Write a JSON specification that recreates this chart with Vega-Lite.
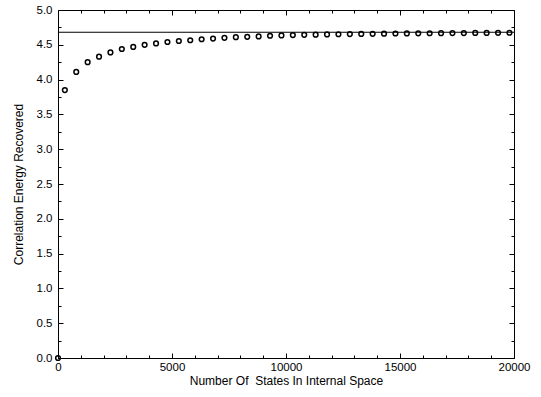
{
  "$schema": "https://vega.github.io/schema/vega-lite/v6.json",
  "width": 456,
  "height": 348,
  "autosize": {"type": "none"},
  "padding": {"left": 58, "top": 10, "right": 27, "bottom": 39},
  "background": "white",
  "config": {
    "view": {"stroke": null},
    "axis": {
      "domainColor": "black",
      "tickColor": "black",
      "labelColor": "black",
      "titleColor": "black",
      "labelFont": "Liberation Sans",
      "titleFont": "Liberation Sans",
      "labelFontSize": 11.5,
      "titleFontSize": 12,
      "titleFontWeight": "normal",
      "grid": false,
      "domainWidth": 1,
      "tickWidth": 1
    }
  },
  "datasets": {
    "pts": [
      {"states": 0, "energy": 0},
      {"states": 300, "energy": 3.85},
      {"states": 800, "energy": 4.11},
      {"states": 1300, "energy": 4.25},
      {"states": 1800, "energy": 4.33},
      {"states": 2300, "energy": 4.39},
      {"states": 2800, "energy": 4.44},
      {"states": 3300, "energy": 4.47},
      {"states": 3800, "energy": 4.5},
      {"states": 4300, "energy": 4.52},
      {"states": 4800, "energy": 4.54},
      {"states": 5300, "energy": 4.555},
      {"states": 5800, "energy": 4.565},
      {"states": 6300, "energy": 4.58},
      {"states": 6800, "energy": 4.59},
      {"states": 7300, "energy": 4.6},
      {"states": 7800, "energy": 4.61},
      {"states": 8300, "energy": 4.615},
      {"states": 8800, "energy": 4.62},
      {"states": 9300, "energy": 4.63},
      {"states": 9800, "energy": 4.635},
      {"states": 10300, "energy": 4.64},
      {"states": 10800, "energy": 4.643},
      {"states": 11300, "energy": 4.646},
      {"states": 11800, "energy": 4.649},
      {"states": 12300, "energy": 4.652},
      {"states": 12800, "energy": 4.654},
      {"states": 13300, "energy": 4.656},
      {"states": 13800, "energy": 4.658},
      {"states": 14300, "energy": 4.66},
      {"states": 14800, "energy": 4.662},
      {"states": 15300, "energy": 4.663},
      {"states": 15800, "energy": 4.665},
      {"states": 16300, "energy": 4.666},
      {"states": 16800, "energy": 4.667},
      {"states": 17300, "energy": 4.668},
      {"states": 17800, "energy": 4.669},
      {"states": 18300, "energy": 4.67},
      {"states": 18800, "energy": 4.671},
      {"states": 19300, "energy": 4.672},
      {"states": 19800, "energy": 4.673}
    ],
    "ref": [
      {"x0": 0, "x1": 20000, "e": 4.68}
    ]
  },
  "layer": [
    {
      "data": {"name": "ref"},
      "mark": {"type": "rule", "color": "black", "strokeWidth": 1.2},
      "encoding": {
        "x": {
          "field": "x0", "type": "quantitative",
          "scale": {"domain": [0, 20000], "nice": false, "zero": true},
          "axis": {
            "orient": "top", "title": null, "labels": false,
            "values": [0,1000,2000,3000,4000,5000,6000,7000,8000,9000,10000,11000,12000,13000,14000,15000,16000,17000,18000,19000,20000],
            "tickSize": {"condition": {"test": "datum.value % 5000 === 0", "value": -5}, "value": -3}
          }
        },
        "x2": {"field": "x1"},
        "y": {
          "field": "e", "type": "quantitative",
          "scale": {"domain": [0, 5], "nice": false},
          "axis": {
            "orient": "right", "title": null, "labels": false,
            "values": [0,0.25,0.5,0.75,1,1.25,1.5,1.75,2,2.25,2.5,2.75,3,3.25,3.5,3.75,4,4.25,4.5,4.75,5],
            "tickSize": {"condition": {"test": "(datum.value * 2) % 1 === 0", "value": -5}, "value": -3}
          }
        }
      }
    },
    {
      "data": {"name": "pts"},
      "mark": {"type": "point", "shape": "circle", "filled": false, "stroke": "black", "strokeWidth": 1.5, "size": 22, "opacity": 1, "clip": false},
      "encoding": {
        "x": {
          "field": "states", "type": "quantitative",
          "scale": {"domain": [0, 20000], "nice": false},
          "axis": {
            "orient": "bottom",
            "title": "Number Of\u00a0 States In Internal Space",
            "values": [0,1000,2000,3000,4000,5000,6000,7000,8000,9000,10000,11000,12000,13000,14000,15000,16000,17000,18000,19000,20000],
            "labelExpr": "datum.value % 5000 === 0 ? datum.label : ''",
            "format": "d",
            "labelFlush": false,
            "labelOverlap": false,
            "labelPadding": 8,
            "titlePadding": 1,
            "tickSize": {"condition": {"test": "datum.value % 5000 === 0", "value": -5}, "value": -3}
          }
        },
        "y": {
          "field": "energy", "type": "quantitative",
          "scale": {"domain": [0, 5], "nice": false},
          "axis": {
            "orient": "left",
            "title": "Correlation Energy Recovered",
            "values": [0,0.25,0.5,0.75,1,1.25,1.5,1.75,2,2.25,2.5,2.75,3,3.25,3.5,3.75,4,4.25,4.5,4.75,5],
            "labelExpr": "(datum.value * 2) % 1 === 0 ? datum.label : ''",
            "format": ".1f",
            "labelFlush": false,
            "labelOverlap": false,
            "labelPadding": 11,
            "titlePadding": 11,
            "tickSize": {"condition": {"test": "(datum.value * 2) % 1 === 0", "value": -5}, "value": -3}
          }
        }
      }
    }
  ],
  "resolve": {"axis": {"x": "independent", "y": "independent"}}
}
